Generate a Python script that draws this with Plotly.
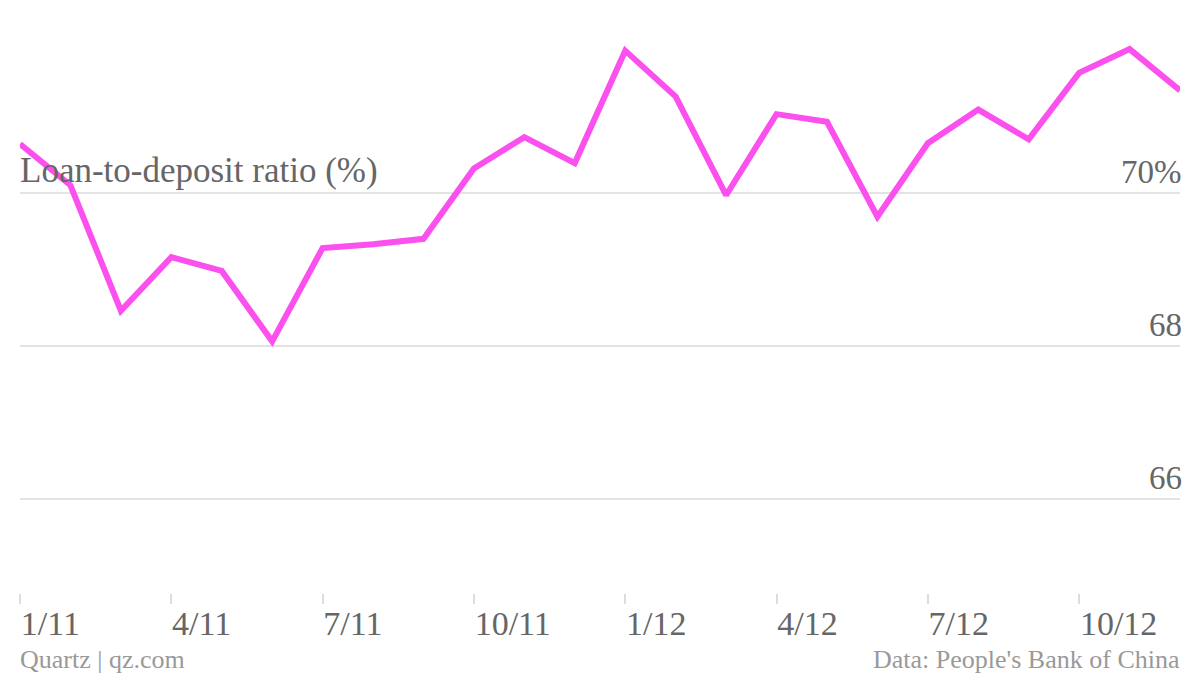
import plotly.graph_objects as go

months = ["1/11", "2/11", "3/11", "4/11", "5/11", "6/11", "7/11", "8/11", "9/11", "10/11", "11/11", "12/11",
          "1/12", "2/12", "3/12", "4/12", "5/12", "6/12", "7/12", "8/12", "9/12", "10/12", "11/12", "12/12"]
ratio = [70.64, 70.10, 68.46, 69.16, 68.98, 68.06, 69.28, 69.33, 69.40, 70.32, 70.73, 70.39,
         71.86, 71.26, 69.97, 71.03, 70.93, 69.69, 70.65, 71.09, 70.70, 71.57, 71.88, 71.34]
x_ticks = ["1/11", "4/11", "7/11", "10/11", "1/12", "4/12", "7/12", "10/12"]
y_ticks = [66, 68, 70]
y_labels = ["66", "68", "70%"]

FONT = "Liberation Serif"
TEXT = "#666666"
FOOT = "#999999"

fig = go.Figure()
fig.add_trace(go.Scatter(
    x=months, y=ratio, mode="lines",
    line=dict(color="#fb50ee", width=6),
    hoverinfo="skip", showlegend=False,
))

# page has an 8px body margin, so the figure is 1192x668 and offsets are reduced by 8
fig.update_layout(
    width=1192, height=668,
    margin=dict(l=12, r=20, t=22, b=83),
    paper_bgcolor="white", plot_bgcolor="white",
    font=dict(family=FONT, color=TEXT, size=34),
    xaxis=dict(
        type="category", range=[0, 23],
        tickvals=x_ticks, ticktext=x_ticks,
        ticks="outside", ticklen=10, tickwidth=1.5, tickcolor="#dddddd",
        ticklabelposition="outside right",
        tickfont=dict(family=FONT, color=TEXT, size=34),
        showgrid=False, showline=False, zeroline=False,
    ),
    yaxis=dict(
        range=[64.77, 72.13],
        tickvals=y_ticks, showticklabels=False,
        showgrid=True, gridcolor="#e3e3e3", gridwidth=1.5,
        zeroline=False, showline=False,
    ),
)

for v, lab in zip(y_ticks, y_labels):
    fig.add_annotation(x=1, xref="paper", xanchor="right", xshift=4,
                       y=v, yref="y", yanchor="bottom", yshift=1,
                       text=lab, showarrow=False,
                       font=dict(family=FONT, color=TEXT, size=33))

fig.add_annotation(x=0, xref="paper", xanchor="left", xshift=-2,
                   y=70, yref="y", yanchor="bottom", yshift=1,
                   text="Loan-to-deposit ratio (%)", showarrow=False,
                   font=dict(family=FONT, color=TEXT, size=35))

fig.add_annotation(x=0, xref="paper", xanchor="left", xshift=-2,
                   y=0, yref="paper", yanchor="top", yshift=-50,
                   text="Quartz | qz.com", showarrow=False,
                   font=dict(family=FONT, color=FOOT, size=26))
fig.add_annotation(x=1, xref="paper", xanchor="right", xshift=2,
                   y=0, yref="paper", yanchor="top", yshift=-50,
                   text="Data: People's Bank of China", showarrow=False,
                   font=dict(family=FONT, color=FOOT, size=26))

fig.write_html("out.html")
